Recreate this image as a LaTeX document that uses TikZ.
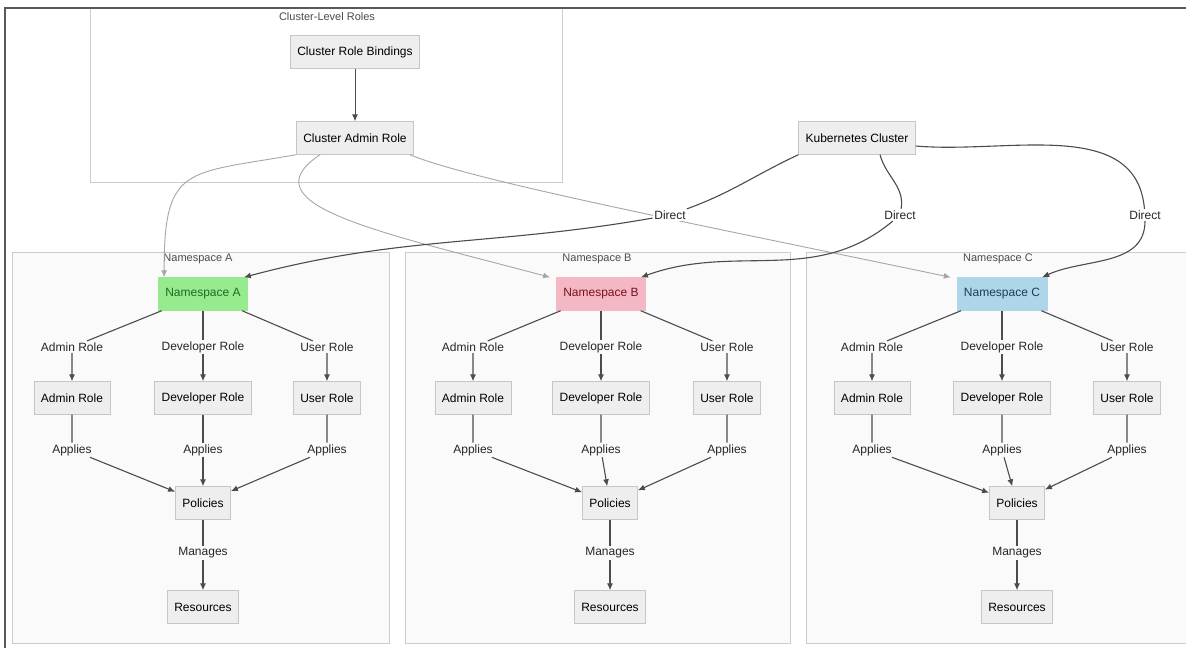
\documentclass[tikz,border=0pt]{standalone}
\usepackage{fontspec}
\setmainfont{Liberation Sans}
\usetikzlibrary{arrows.meta}

\definecolor{nsgreen}{HTML}{96EB8F}
\definecolor{nsgreentext}{HTML}{1E6B1E}
\definecolor{nspink}{HTML}{F4B8C4}
\definecolor{nspinktext}{HTML}{7A1020}
\definecolor{nsblue}{HTML}{AED6E8}
\definecolor{nsbluetext}{HTML}{1F3B5A}

\begin{document}
\begin{tikzpicture}[x=1pt,y=-1pt,
  every node/.style={font=\fontsize{12}{14}\selectfont},
  box/.style={draw=gray!45, fill=gray!13, minimum height=33pt, inner xsep=7pt},
  group/.style={draw=gray!40, fill=gray!4},
  grouptitle/.style={text=black!70, font=\fontsize{11}{13}\selectfont},
  rolelabel/.style={fill=gray!4, inner sep=1.5pt, text=black!85},
  directlabel/.style={fill=white, inner sep=1.5pt, text=black!85},
  link/.style={draw=black!70, line width=1.1pt, -{Latex[length=7pt,width=6pt]}},
  adminlink/.style={draw=black!35, line width=0.9pt, -{Latex[length=7pt,width=6pt]}}]

  \useasboundingbox (0,0) rectangle (1186,648);
  \fill[white] (0,0) rectangle (1186,648);

  % Groups: cluster level roles and the three namespaces

  \draw[group, fill=white] (90,8) rectangle (562,182);
  \node[grouptitle] (CLT) at (327,17) {Cluster-Level Roles};
  \draw[group] (12,252) rectangle (389,643);
  \node[grouptitle] (NSAT) at (198,259) {Namespace A};
  \draw[group] (405,252) rectangle (790,643);
  \node[grouptitle] (NSBT) at (597,259) {Namespace B};
  \draw[group] (806,252) rectangle (1200,643);
  \node[grouptitle] (NSCT) at (998,259) {Namespace C};
  \draw[line width=2pt, black!65] (5,648) |- (1186,8);

  % Cluster wide nodes

  \node[box] (CRB) at (355,52) {Cluster Role Bindings};
  \node[box] (CAR) at (355,138) {Cluster Admin Role};
  \node[box] (KC) at (857,138) {Kubernetes Cluster};
  \draw[link, line width=0.9pt] (CRB) -- (CAR);

  % Namespace A

  \node[box, fill=nsgreen, draw=nsgreen, text=nsgreentext] (NSA) at (203,294) {Namespace A};
  \node[rolelabel] (AdmLA) at (72,347) {Admin Role};
  \node[rolelabel] (DevLA) at (203,347) {Developer Role};
  \node[rolelabel] (UsrLA) at (327,347) {User Role};
  \node[box] (AdmA) at (72,398) {Admin Role};
  \node[box] (DevA) at (203,398) {Developer Role};
  \node[box] (UsrA) at (327,398) {User Role};
  \node[rolelabel] (AppAA) at (72,450) {Applies};
  \node[rolelabel] (AppDA) at (203,450) {Applies};
  \node[rolelabel] (AppUA) at (327,450) {Applies};
  \node[box] (PolA) at (203,503) {Policies};
  \node[rolelabel] (ManA) at (203,553) {Manages};
  \node[box] (ResA) at (203,607) {Resources};
  \draw[link] (NSA) -- (AdmLA) -- (AdmA);
  \draw[link] (NSA) -- (DevLA) -- (DevA);
  \draw[link] (NSA) -- (UsrLA) -- (UsrA);
  \draw[link] (AdmA) -- (AppAA) -- (PolA);
  \draw[link] (DevA) -- (AppDA) -- (PolA);
  \draw[link] (UsrA) -- (AppUA) -- (PolA);
  \draw[link] (PolA) -- (ManA) -- (ResA);

  % Namespace B

  \node[box, fill=nspink, draw=nspink, text=nspinktext] (NSB) at (601,294) {Namespace B};
  \node[rolelabel] (AdmLB) at (473,347) {Admin Role};
  \node[rolelabel] (DevLB) at (601,347) {Developer Role};
  \node[rolelabel] (UsrLB) at (727,347) {User Role};
  \node[box] (AdmB) at (473,398) {Admin Role};
  \node[box] (DevB) at (601,398) {Developer Role};
  \node[box] (UsrB) at (727,398) {User Role};
  \node[rolelabel] (AppAB) at (473,450) {Applies};
  \node[rolelabel] (AppDB) at (601,450) {Applies};
  \node[rolelabel] (AppUB) at (727,450) {Applies};
  \node[box] (PolB) at (610,503) {Policies};
  \node[rolelabel] (ManB) at (610,553) {Manages};
  \node[box] (ResB) at (610,607) {Resources};
  \draw[link] (NSB) -- (AdmLB) -- (AdmB);
  \draw[link] (NSB) -- (DevLB) -- (DevB);
  \draw[link] (NSB) -- (UsrLB) -- (UsrB);
  \draw[link] (AdmB) -- (AppAB) -- (PolB);
  \draw[link] (DevB) -- (AppDB) -- (PolB);
  \draw[link] (UsrB) -- (AppUB) -- (PolB);
  \draw[link] (PolB) -- (ManB) -- (ResB);

  % Namespace C

  \node[box, fill=nsblue, draw=nsblue, text=nsbluetext] (NSC) at (1002,294) {Namespace C};
  \node[rolelabel] (AdmLC) at (872,347) {Admin Role};
  \node[rolelabel] (DevLC) at (1002,347) {Developer Role};
  \node[rolelabel] (UsrLC) at (1127,347) {User Role};
  \node[box] (AdmC) at (872,398) {Admin Role};
  \node[box] (DevC) at (1002,398) {Developer Role};
  \node[box] (UsrC) at (1127,398) {User Role};
  \node[rolelabel] (AppAC) at (872,450) {Applies};
  \node[rolelabel] (AppDC) at (1002,450) {Applies};
  \node[rolelabel] (AppUC) at (1127,450) {Applies};
  \node[box] (PolC) at (1017,503) {Policies};
  \node[rolelabel] (ManC) at (1017,553) {Manages};
  \node[box] (ResC) at (1017,607) {Resources};
  \draw[link] (NSC) -- (AdmLC) -- (AdmC);
  \draw[link] (NSC) -- (DevLC) -- (DevC);
  \draw[link] (NSC) -- (UsrLC) -- (UsrC);
  \draw[link] (AdmC) -- (AppAC) -- (PolC);
  \draw[link] (DevC) -- (AppDC) -- (PolC);
  \draw[link] (UsrC) -- (AppUC) -- (PolC);
  \draw[link] (PolC) -- (ManC) -- (ResC);

  % Cluster admin role reaches every namespace

  \draw[adminlink] (CAR.south west) to[out=-170, in=90, looseness=1.6] ([xshift=6pt]NSA.north west);
  \draw[adminlink] ([xshift=-35pt]CAR.south) .. controls (245,205) and (380,232) .. ([xshift=-6pt]NSB.north west);
  \draw[adminlink] ([xshift=-4pt]CAR.south east) .. controls (470,180) and (700,225) .. ([xshift=-6pt]NSC.north west);

  % Direct links from the cluster

  \node[directlabel] (DA) at (670,215) {Direct};
  \node[directlabel] (DB) at (900,215) {Direct};
  \node[directlabel] (DC) at (1145,215) {Direct};
  \draw[link] (KC.south west) to[out=-155, in=20] (DA) to[out=-170, in=15] ([xshift=-4pt]NSA.north east);
  \draw[link] ([xshift=23pt]KC.south) to[out=-75, in=80] (DB) to[out=-140, in=20] ([xshift=-5pt]NSB.north east);
  \draw[link] ([yshift=-8pt]KC.east) to[out=-5, in=95] (DC) to[out=-90, in=25] ([xshift=-5pt]NSC.north east);
\end{tikzpicture}
\end{document}
